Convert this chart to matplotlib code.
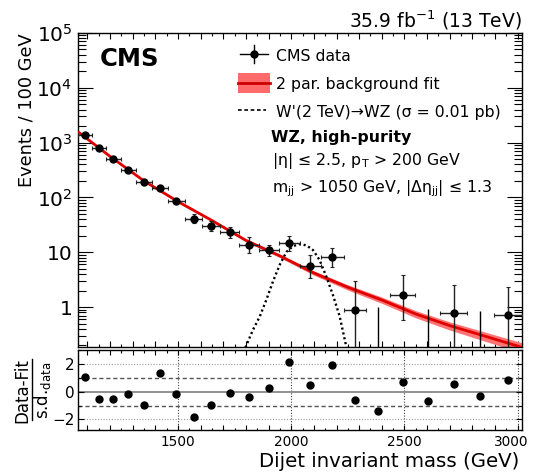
import numpy as np
import matplotlib
matplotlib.use('Agg')
import matplotlib.pyplot as plt
import matplotlib.transforms as mtransforms
from matplotlib.ticker import MultipleLocator, FixedLocator, FuncFormatter, LogLocator, NullFormatter
from matplotlib.patches import Rectangle
from matplotlib.lines import Line2D

plt.rcParams['font.family'] = ['DejaVu Sans']
plt.rcParams['mathtext.fontset'] = 'dejavusans'

# ---------------- data ----------------
bin_edges = [1058, 1118, 1181, 1246, 1313, 1383, 1455, 1530, 1607, 1687, 1770,
             1856, 1945, 2037, 2132, 2231, 2332, 2438, 2546, 2659, 2775, 2895, 3019]
data_vals = [1358, 801, 497, 319, 193, 150, 84.6, 41, 30.1, 23.4, 13.7,
             11.1, 14.8, 5.7, 8.2, 0.89, 0, 1.65, 0, 0.78, 0, 0.72]
data_err_up = [40, 35, 28, 22, 17, 15, 11, 8.7, 7.3, 5.9, 5.3,
               2.6, 5.0, 3.2, 3.6, 2.1, 1.0, 2.2, 0.92, 1.76, 0.86, 1.65]
data_err_dn = [40, 35, 28, 22, 17, 15, 10, 7.1, 5.9, 5.4, 3.9,
               2.7, 4.1, 2.3, 2.7, 0.88, 0, 1.06, 0, 0.77, 0, 0.71]
pulls = [1.05, -0.52, -0.52, -0.14, -0.93, 1.33, -0.17, -1.83, -0.95, -0.12, -0.40,
         0.26, 2.10, 0.50, 1.90, -0.57, -1.43, 0.67, -0.69, 0.52, -0.33, 0.86]

fit_mass = [1058, 1200, 1350, 1500, 1650, 1800, 1950, 2100, 2250, 2400, 2550, 2700, 2850, 3019]
fit_vals = [1580, 560, 200, 84, 38, 16.5, 8.6, 4.2, 2.3, 1.35, 0.75, 0.46, 0.30, 0.185]
fit_band_rel = [0.04, 0.04, 0.04, 0.045, 0.05, 0.06, 0.07, 0.09, 0.11, 0.13, 0.15, 0.17, 0.19, 0.21]

sig_mass = [1780, 1799, 1831, 1861, 1890, 1919, 1949, 1979, 2008, 2037, 2067, 2096,
            2125, 2155, 2184, 2214, 2243, 2260]
sig_vals = [0.10, 0.19, 0.386, 0.675, 1.36, 2.92, 5.9, 10.2, 13.0, 14.1, 13.4, 11.0,
            7.25, 3.6, 1.67, 0.675, 0.19, 0.10]

y_major_ticks = [1, 10, 1e2, 1e3, 1e4, 1e5]
x_labelled_ticks = [1500, 2000, 2500, 3000]
pull_ticks = [-2, 0, 2]

# ---------------- figure ----------------
fig = plt.figure(figsize=(5.33, 4.74), dpi=100)
ax = fig.add_axes([0.1463, 0.2686, 0.8330, 0.6618])
rx = fig.add_axes([0.1463, 0.0918, 0.8330, 0.1698])

edges = np.array(bin_edges, dtype=float)
centers = 0.5 * (edges[:-1] + edges[1:])
half = 0.5 * np.diff(edges)
vals = np.array(data_vals, dtype=float)
up = np.array(data_err_up, dtype=float)
dn = np.array(data_err_dn, dtype=float)
has = vals > 0

fm = np.array(fit_mass, dtype=float)
fv = np.array(fit_vals, dtype=float)
rel = np.array(fit_band_rel, dtype=float)

ax.fill_between(fm, fv * (1 - rel), fv * (1 + rel), color='#ff7373', lw=0, zorder=2)
ax.plot(fm, fv, color='#e00000', lw=2.0, zorder=3, solid_capstyle='butt')
ax.plot(sig_mass, sig_vals, color='black', lw=1.7, ls=(0, (0.9, 1.2)), zorder=4)
ax.errorbar(centers[has], vals[has], yerr=[dn[has], up[has]], xerr=half[has],
            fmt='o', color='black', ecolor='#222222', ms=5.0, elinewidth=1.0,
            capsize=1.5, capthick=0.8, zorder=5)
ax.vlines(centers[~has], 1e-3, up[~has], color='black', lw=1.0, zorder=5)

ax.set_yscale('log')
ax.set_xlim(bin_edges[0], bin_edges[-1])
ax.set_ylim(0.19, 1e5)

ax.yaxis.set_major_locator(FixedLocator(y_major_ticks))
ax.yaxis.set_minor_locator(LogLocator(base=10, subs=np.arange(2, 10)))
ax.yaxis.set_minor_formatter(NullFormatter())


def ylab(v, p):
    if v == 1:
        return '1'
    if v == 10:
        return '10'
    return r'$\mathdefault{10^{%d}}$' % int(round(np.log10(v)))


ax.yaxis.set_major_formatter(FuncFormatter(ylab))
ax.xaxis.set_major_locator(MultipleLocator(100))
ax.xaxis.set_minor_locator(MultipleLocator(50))
ax.tick_params(axis='x', which='both', labelbottom=False, direction='in', top=True, bottom=True)
ax.tick_params(axis='x', which='major', length=4.3, width=0.8)
ax.tick_params(axis='x', which='minor', length=2.2, width=0.8)
ax.tick_params(axis='y', which='major', direction='in', left=True, right=True, length=11, width=0.8,
               labelsize=14.5, pad=4)
ax.tick_params(axis='y', which='minor', direction='in', left=True, right=True, length=5.5, width=0.8)
for s in ax.spines.values():
    s.set_linewidth(1.0)

ax.set_ylabel('Events / 100 GeV', fontsize=12.8, loc='top')
ax.yaxis.set_label_coords(-0.0966, 1.0)

# CMS label and lumi
ax.text(0.048, 0.8955, 'CMS', fontsize=17.5, fontweight='bold', transform=ax.transAxes,
        ha='left', va='baseline')
fig.text(0.979, 1 - 27.0 / 474, r'35.9 fb$^{-1}$ (13 TeV)', fontsize=13.5, ha='right', va='baseline')

# legend (manual)
T = ax.transAxes
ax.add_line(Line2D([0.364, 0.4276], [0.9329, 0.9329], color='black', lw=1.0, transform=T))
ax.add_line(Line2D([0.3955, 0.3955], [0.9051, 0.9617], color='black', lw=1.0, transform=T))
ax.add_line(Line2D([0.3955], [0.9329], marker='o', ms=5.0, color='black', transform=T))
ax.add_patch(Rectangle((0.3603, 0.8093), 0.0712, 0.0639, color='#ff6b6b', lw=0, transform=T))
ax.add_line(Line2D([0.3603, 0.4315], [0.8412, 0.8412], color='#cc0000', lw=2.0, transform=T))
ax.add_line(Line2D([0.3603, 0.4240], [0.754, 0.754], color='black', lw=1.2, ls=(0, (2.2, 1.6)),
                   transform=T))
fs = 11.3
ax.text(0.445, 0.9115, 'CMS data', fontsize=fs, transform=T, va='baseline')
ax.text(0.445, 0.820, '2 par. background fit', fontsize=fs, transform=T, va='baseline')
ax.text(0.445, 0.7316, "W'(2 TeV)\u2192WZ (\u03c3 = 0.01 pb)", fontsize=fs, transform=T, va='baseline')
ax.text(0.435, 0.6527, 'WZ, high-purity', fontsize=fs, fontweight='bold', transform=T, va='baseline')
ax.text(0.4375, 0.5783, '|\u03b7| \u2264 2.5, p$_{\\mathregular{T}}$ > 200 GeV',
        fontsize=fs, transform=T, va='baseline')
ax.text(0.4375, 0.493, 'm$_{\\mathregular{jj}}$ > 1050 GeV, |\u0394\u03b7$_{\\mathregular{jj}}$| \u2264 1.3',
        fontsize=fs, transform=T, va='baseline')

# ---------------- ratio panel ----------------
rx.set_xlim(bin_edges[0], bin_edges[-1])
rx.set_ylim(-2.8, 3.0)
for xv in x_labelled_ticks:
    rx.axvline(xv, color='#444444', lw=0.8, ls=(0, (1, 1.5)), zorder=1)
rx.axhline(0, color='#888888', lw=1.3, zorder=1)
for yv in (-1, 1):
    rx.axhline(yv, color='#555555', lw=1.0, ls=(0, (3, 2)), zorder=1)
for yv in (-2, 2):
    rx.axhline(yv, color='#999999', lw=0.8, ls=(0, (1, 1.5)), zorder=1)
rx.plot(centers, pulls, 'o', color='black', ms=5.0, zorder=3)

rx.xaxis.set_major_locator(MultipleLocator(100))
rx.xaxis.set_minor_locator(MultipleLocator(50))
rx.tick_params(axis='x', which='major', direction='in', top=True, bottom=True, length=3.6, width=0.8,
               labelbottom=False)
rx.tick_params(axis='x', which='minor', direction='in', top=True, bottom=True, length=1.8, width=0.8)
# x tick labels (last one nudged left so it stays inside the picture)
xtr = mtransforms.blended_transform_factory(rx.transData, rx.transAxes)
for xv in x_labelled_ticks:
    tr = xtr
    if xv == x_labelled_ticks[-1]:
        tr = mtransforms.offset_copy(xtr, fig=fig, x=-5, y=0, units='points')
    rx.text(xv, -0.06, '%d' % xv, transform=tr, ha='center', va='top', fontsize=9.8)

rx.yaxis.set_major_locator(FixedLocator(pull_ticks))
rx.yaxis.set_minor_locator(MultipleLocator(1))
rx.tick_params(axis='y', which='major', direction='in', left=True, right=True, length=4, width=0.8,
               labelsize=11, pad=2.5)
rx.tick_params(axis='y', which='minor', direction='in', left=True, right=True, length=2, width=0.8)
for s in rx.spines.values():
    s.set_linewidth(1.0)

rx.set_xlabel('Dijet invariant mass (GeV)', fontsize=14.2, loc='right')
rx.xaxis.set_label_coords(0.9944, -0.262)

# pull axis label as a fraction, built from two rotated texts and a bar
rT = rx.transAxes
rx.text(-0.125, 0.50, 'Data-Fit', rotation=90, ha='center', va='center', fontsize=12,
        transform=rT)
rx.add_line(Line2D([-0.1035, -0.1035], [0.13, 0.89], color='black', lw=1.0, transform=rT,
                   clip_on=False))
rx.text(-0.080, 0.50, r's.d.$_{\mathregular{data}}$', rotation=90, ha='center', va='center',
        fontsize=12, transform=rT)

fig.savefig('out.png', dpi=100)
